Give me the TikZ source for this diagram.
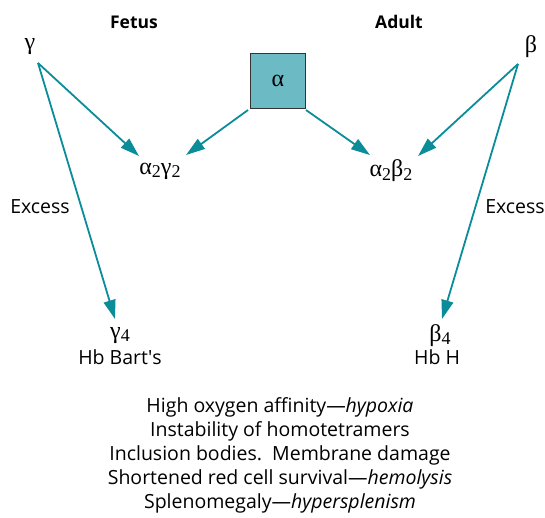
\documentclass[tikz,border=0pt]{standalone}
\usepackage{fontspec}
\setmainfont{Open Sans}
\newfontfamily\osq{Open Sans}
\newfontfamily\gk{Liberation Serif}
\usetikzlibrary{arrows.meta}
\definecolor{teal1}{HTML}{0A8C99}
\definecolor{boxfill}{HTML}{6BBAC4}
\begin{document}
\begin{tikzpicture}[x=1pt,y=-1pt,
  txt/.style={inner sep=0pt,font=\fontsize{19.5}{22}\selectfont},
  hdr/.style={inner sep=0pt,font=\fontsize{17.5}{20}\selectfont\bfseries},
  greek/.style={inner sep=0pt,font=\fontsize{24}{26}\selectfont},
  arr/.style={draw=teal1,line width=1.8pt,-{Triangle[length=19pt,width=12pt]}}]
\useasboundingbox (0,0) rectangle (545,517);
\newcommand{\sbs}[1]{\raisebox{-0.35ex}{\fontsize{18}{18}\selectfont #1}}
\node[hdr] (fetus) at (134,22) {Fetus};
\node[hdr] (adult) at (399,22) {Adult};
\node[greek] (g) at (30,47) {\gk γ};
\node[greek] (b) at (531,47) {\gk β};
\node[draw=black!80,line width=0.9pt,fill=boxfill,minimum size=55pt,inner sep=0pt,font=\fontsize{24}{26}\selectfont] (a) at (278,81) {\gk α};
\node[greek] (ag) at (160,171) {\gk α\sbs{2}γ\sbs{2}};
\node[greek] (ab) at (391,171) {\gk α\sbs{2}β\sbs{2}};
\node[txt] (ex1) at (40,207) {Excess};
\node[txt] (ex2) at (515,207) {Excess};
\node[greek,anchor=base] (g4) at (120,338) {\gk γ\sbs{4}};
\node[txt,anchor=base] (bart) at (120,364) {Hb Bart{\osq '}s};
\node[greek,anchor=base] (b4) at (440,341) {\gk β\sbs{4}};
\node[txt,anchor=base] (hbh) at (437,364) {Hb H};
\node[txt,align=center,font=\fontsize{19.5}{24}\selectfont] (eff) at (280,455) {High oxygen affinity—\textit{hypoxia}\\Instability of homotetramers\\Inclusion bodies.\ \ Membrane damage\\Shortened red cell survival—\textit{hemolysis}\\Splenomegaly—\textit{hypersplenism}};
\coordinate (gs) at (38,63);
\coordinate (bs) at (518,64);
\coordinate (al) at (248,110);
\coordinate (ar) at (306,110);
\coordinate (t1) at (139,156);
\coordinate (t2) at (186,155);
\coordinate (t3) at (370,155);
\coordinate (t4) at (418,156);
\coordinate (t5) at (115,319);
\coordinate (t6) at (442,319);
\draw[arr] (gs) -- (t1);
\draw[arr] (al) -- (t2);
\draw[arr] (ar) -- (t3);
\draw[arr] (bs) -- (t4);
\draw[arr] (gs) -- (t5);
\draw[arr] (bs) -- (t6);
\end{tikzpicture}
\end{document}
